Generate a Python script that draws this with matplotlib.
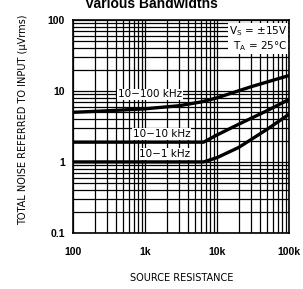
import matplotlib
matplotlib.use("Agg")
import matplotlib.pyplot as plt
from matplotlib.ticker import FixedLocator, NullFormatter
import numpy as np

# source resistance (ohm) and total noise (uVrms)
r_100k = [100, 300, 1000, 3000, 6000, 10000, 30000, 100000]
n_100k = [5.0, 5.25, 5.6, 6.2, 7.0, 8.0, 11.5, 16.5]

r_10k = [100, 1000, 6500, 10000, 20000, 50000, 100000]
n_10k = [1.9, 1.9, 1.9, 2.4, 3.4, 5.3, 7.6]

r_1k = [100, 1000, 6500, 10000, 20000, 50000, 100000]
n_1k = [1.0, 1.0, 1.0, 1.15, 1.6, 2.9, 4.7]

x_ticks = [100, 1000, 10000, 100000]
x_labels = ["100", "1k", "10k", "100k"]
y_ticks = [0.1, 1, 10, 100]
y_labels = ["0.1", "1", "10", "100"]

fig = plt.figure(figsize=(3.03, 2.89), dpi=100)
ax = fig.add_axes([0.241, 0.194, 0.713, 0.737])
ax.set_xscale("log")
ax.set_yscale("log")
ax.set_xlim(100, 100000)
ax.set_ylim(0.1, 100)

# grid lines (major + minor), drawn as plain black lines
minor_x = [m * d for d in [100, 1000, 10000] for m in range(2, 10)]
minor_y = [m * d for d in [0.1, 1, 10] for m in range(2, 10)]
for v in minor_x + x_ticks:
    ax.axvline(v, color="black", lw=0.9, zorder=1)
for v in minor_y + y_ticks:
    ax.axhline(v, color="black", lw=0.9, zorder=1)

for r, n in [(r_100k, n_100k), (r_10k, n_10k), (r_1k, n_1k)]:
    ax.plot(r, n, color="black", lw=2.4, zorder=3, solid_capstyle="butt")

ax.xaxis.set_major_locator(FixedLocator(x_ticks))
ax.yaxis.set_major_locator(FixedLocator(y_ticks))
ax.xaxis.set_minor_formatter(NullFormatter())
ax.yaxis.set_minor_formatter(NullFormatter())
ax.set_xticklabels(x_labels, fontsize=7.5, fontweight="bold", family="Liberation Sans")
ax.set_yticklabels(y_labels, fontsize=7.5, fontweight="bold", family="Liberation Sans")
ax.tick_params(which="both", length=0)
ax.tick_params(axis="x", pad=10)
ax.tick_params(axis="y", pad=6)
for s in ax.spines.values():
    s.set_linewidth(1.2)

box = dict(facecolor="white", edgecolor="none", pad=0.5)
lab = dict(fontsize=7.5, family="DejaVu Sans", ha="center", va="center", zorder=4, bbox=box)
ax.text(0.355, 0.65, "10\u2212100 kHz", transform=ax.transAxes, **lab)
ax.text(0.41, 0.465, "10\u221210 kHz", transform=ax.transAxes, **lab)
ax.text(0.425, 0.37, "10\u22121 kHz", transform=ax.transAxes, **lab)
ax.text(0.99, 0.98, "V$_\\mathregular{S}$ = \u00b115V\nT$_\\mathregular{A}$ = 25\u00b0C",
        transform=ax.transAxes, ha="right", va="top", fontsize=7.5,
        family="DejaVu Sans", linespacing=1.1, zorder=4, bbox=box)

fig.text(0.5, 0.985, "Various Bandwidths", ha="center", va="center",
         fontsize=10, fontweight="bold", family="Liberation Sans")
fig.text(0.075, 0.585, "TOTAL NOISE REFERRED TO INPUT (\u03bcVrms)", rotation=90,
         ha="center", va="center", fontsize=7, family="DejaVu Sans")
fig.text(0.6, 0.038, "SOURCE RESISTANCE", ha="center", va="center",
         fontsize=7, family="DejaVu Sans")

fig.savefig("out.png", dpi=100)
